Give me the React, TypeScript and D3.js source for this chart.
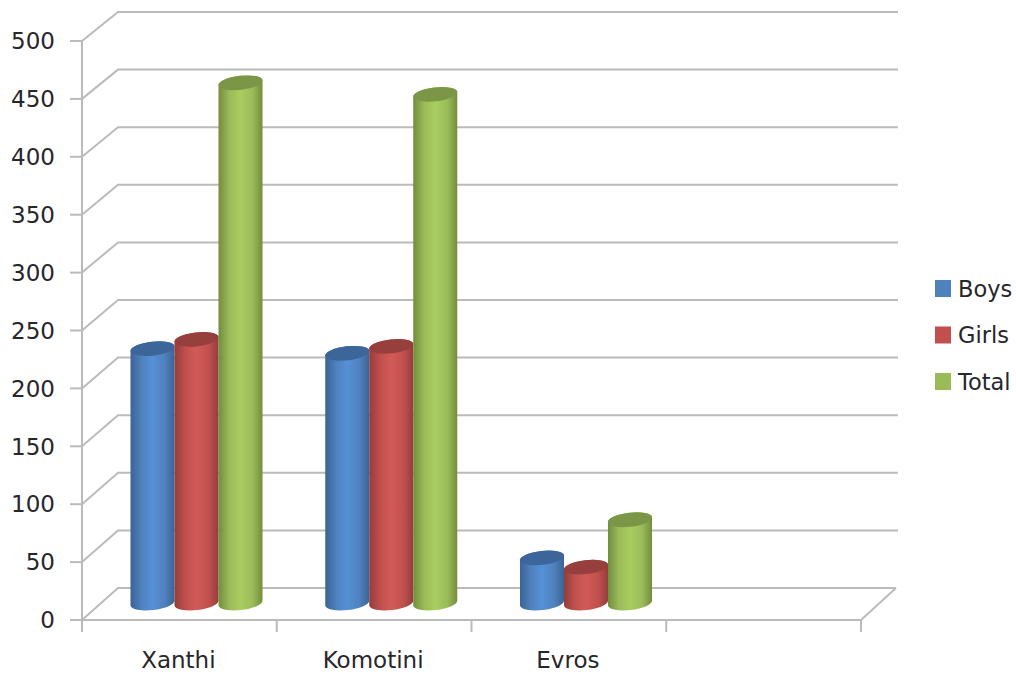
import React from "react";
import * as d3 from "d3";

// Enrolment by area, drawn as a pseudo-3D cylinder column chart.
const categories = ["Xanthi", "Komotini", "Evros", ""];
const seriesNames = ["Boys", "Girls", "Total"];
const boys = [220, 216, 39];
const girls = [228, 222, 31];
const total = [450, 440, 72];
const seriesValues = [boys, girls, total];
const yTicks = [0, 50, 100, 150, 200, 250, 300, 350, 400, 450, 500];

const baseColors = ["#4f81bd", "#c0504d", "#9bbb59"];
const edgeColors = ["#3a6494", "#933d3b", "#728d3e"];
const midColors = ["#5690d6", "#d25a57", "#a9cd60"];
const capColors = ["#3c6699", "#973f3c", "#7b9646"];

const width = 1016;
const height = 675;
const font = "'DejaVu Sans', sans-serif";
const gridColor = "#bbbbbb";
const textColor = "#26262b";

const yFront = d3.scaleLinear().domain([0, 500]).range([620, 41]);
const yBack = d3.scaleLinear().domain([0, 500]).range([588, 12]);
// Column bases sit on the floor between its front and back edges.
const yBar = d3.scaleLinear().domain([0, 500]).range([603, 25]);
const xBand = d3.scaleBand().domain(categories).range([82, 861]).paddingInner(0).paddingOuter(0);
const xTicks = [...categories.map((c) => xBand(c) as number), 861];

const barW = 44;
const barStart = 48.5;
const halfTilt = 2.5;
const ry = 7;
const rx = Math.hypot(barW / 2, halfTilt);
const rot = (-Math.atan2(halfTilt, barW / 2) * 180) / Math.PI;

function Cylinder({ left, value, s }: { left: number; value: number; s: number }) {
  const right = left + barW;
  const cx = left + barW / 2;
  const yt = yBar(value);
  const yb = yBar(0);
  const body = `M${left},${yt + halfTilt} L${left},${yb + halfTilt} A${rx},${ry} ${rot} 0 0 ${right},${yb - halfTilt} L${right},${yt - halfTilt} A${rx},${ry} ${rot} 0 0 ${left},${yt + halfTilt} Z`;
  return (
    <g>
      <path d={body} fill={`url(#cyl${s})`} />
      <ellipse cx={cx} cy={yt} rx={rx} ry={ry} fill={capColors[s]} transform={`rotate(${rot} ${cx} ${yt})`} />
    </g>
  );
}

export default function App() {
  return (
    <svg width={width} height={height} style={{ position: "absolute", left: 0, top: 0, background: "#fff" }}>
      <defs>
        {baseColors.map((_, s) => (
          <linearGradient id={`cyl${s}`} key={s} x1="0" x2="1" y1="0" y2="0">
            <stop offset="0" stopColor={edgeColors[s]} />
            <stop offset="0.25" stopColor={baseColors[s]} />
            <stop offset="0.5" stopColor={midColors[s]} />
            <stop offset="0.78" stopColor={baseColors[s]} />
            <stop offset="1" stopColor={edgeColors[s]} />
          </linearGradient>
        ))}
      </defs>

      {/* back wall and side wall gridlines */}
      {yTicks.map((t) => (
        <g key={t} stroke={gridColor} strokeWidth={2} fill="none">
          <path d={`M82,${yFront(t)} L118,${yBack(t)} L${t === 0 ? 896 : 898},${yBack(t)}`} />
        </g>
      ))}

      {/* floor edge and axes */}
      <g stroke={gridColor} strokeWidth={2} fill="none">
        <path d={`M82,${yFront(500)} L82,${yFront(0)} L861,${yFront(0)} L896,${yBack(0)}`} />
        {yTicks.map((t) => (
          <line key={t} x1={70} x2={82} y1={yFront(t)} y2={yFront(t)} />
        ))}
        {xTicks.map((x) => (
          <line key={x} x1={x} x2={x} y1={620} y2={632} />
        ))}
      </g>

      {yTicks.map((t) => (
        <text key={t} x={55} y={yFront(t)} dy="0.36em" textAnchor="end" fontFamily={font} fontSize={23} fill={textColor}>
          {t}
        </text>
      ))}

      {/* columns */}
      {categories.slice(0, 3).map((c, i) =>
        seriesValues.map((vals, s) => (
          <Cylinder key={`${c}${s}`} left={(xBand(c) as number) + barStart + s * barW} value={vals[i]} s={s} />
        ))
      )}

      {categories.slice(0, 3).map((c) => (
        <text
          key={c}
          x={(xBand(c) as number) + xBand.bandwidth() / 2 - 1}
          y={668}
          textAnchor="middle"
          fontFamily={font}
          fontSize={23}
          fill={textColor}
        >
          {c}
        </text>
      ))}

      {/* legend */}
      {seriesNames.map((n, s) => (
        <g key={n}>
          <rect x={935} y={280 + s * 46.5} width={16} height={17} fill={baseColors[s]} />
          <text x={958} y={288.5 + s * 46.5} dy="0.36em" fontFamily={font} fontSize={22.5} fill={textColor}>
            {n}
          </text>
        </g>
      ))}
    </svg>
  );
}
